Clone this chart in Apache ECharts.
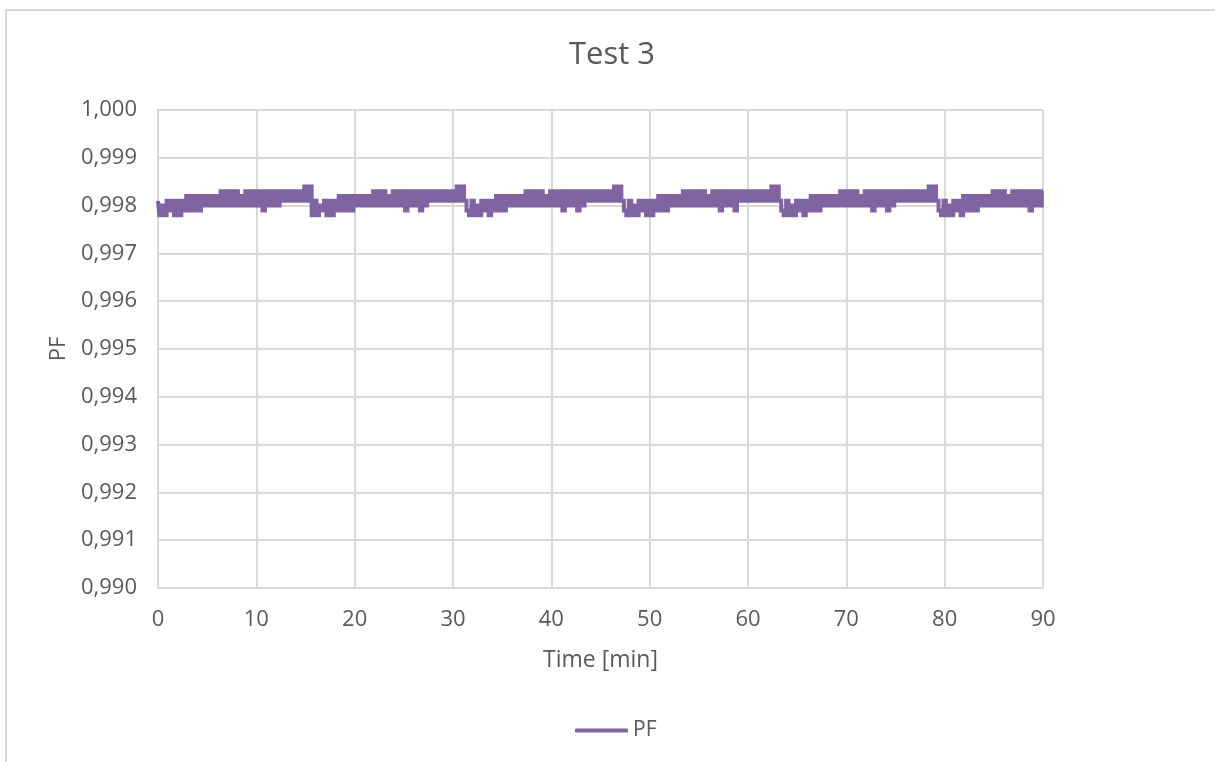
<!DOCTYPE html>
<html>
<head>
<meta charset="utf-8">
<script src="https://cdn.jsdelivr.net/npm/echarts@6/dist/echarts.min.js"></script>
<style>
  html, body { margin: 0; padding: 0; background: #ffffff; }
  #frame { position: absolute; left: 5px; top: 9px; width: 1400px; height: 900px;
           border-top: 2px solid #d9d9d9; border-left: 2px solid #d9d9d9; }
  #chart { position: absolute; left: 0; top: 0; width: 1215px; height: 762px; }
</style>
</head>
<body>
<div id="frame"></div>
<div id="chart"></div>
<script>
// ---- chart data ----
const chartTitle = 'Test 3';
const seriesName = 'PF';
const xAxisName = 'Time [min]';
const yAxisName = 'PF';
const xTicks = [0, 10, 20, 30, 40, 50, 60, 70, 80, 90];
const yTicks = [0.990, 0.991, 0.992, 0.993, 0.994, 0.995, 0.996, 0.997, 0.998, 0.999, 1.000];
const sampleMinutes = 0.25; // one PF reading every 15 s
// PF readings, one line per minute (4 readings per minute)
const pfValues = [
  0.9981, 0.9978, 0.9980, 0.9978,   // 0
  0.9981, 0.9979, 0.9981, 0.9978,   // 1
  0.9981, 0.9978, 0.9981, 0.9979,   // 2
  0.9982, 0.9979, 0.9982, 0.9979,   // 3
  0.9982, 0.9979, 0.9982, 0.9980,   // 4
  0.9982, 0.9980, 0.9982, 0.9980,   // 5
  0.9982, 0.9980, 0.9983, 0.9980,   // 6
  0.9983, 0.9980, 0.9983, 0.9980,   // 7
  0.9983, 0.9980, 0.9982, 0.9980,   // 8
  0.9983, 0.9980, 0.9983, 0.9980,   // 9
  0.9983, 0.9980, 0.9983, 0.9979,   // 10
  0.9983, 0.9980, 0.9983, 0.9980,   // 11
  0.9983, 0.9980, 0.9983, 0.9981,   // 12
  0.9983, 0.9981, 0.9983, 0.9981,   // 13
  0.9983, 0.9981, 0.9983, 0.9981,   // 14
  0.9984, 0.9981, 0.9984, 0.9978,   // 15
  0.9981, 0.9978, 0.9980, 0.9979,   // 16
  0.9981, 0.9978, 0.9981, 0.9978,   // 17
  0.9981, 0.9979, 0.9982, 0.9979,   // 18
  0.9982, 0.9979, 0.9982, 0.9979,   // 19
  0.9982, 0.9980, 0.9982, 0.9980,   // 20
  0.9982, 0.9980, 0.9982, 0.9980,   // 21
  0.9983, 0.9980, 0.9983, 0.9980,   // 22
  0.9983, 0.9980, 0.9982, 0.9980,   // 23
  0.9983, 0.9980, 0.9983, 0.9980,   // 24
  0.9983, 0.9979, 0.9983, 0.9980,   // 25
  0.9983, 0.9980, 0.9983, 0.9979,   // 26
  0.9983, 0.9980, 0.9983, 0.9981,   // 27
  0.9983, 0.9981, 0.9983, 0.9981,   // 28
  0.9983, 0.9981, 0.9983, 0.9981,   // 29
  0.9983, 0.9981, 0.9984, 0.9981,   // 30
  0.9984, 0.9981, 0.9979, 0.9978,   // 31
  0.9981, 0.9978, 0.9980, 0.9978,   // 32
  0.9981, 0.9979, 0.9981, 0.9978,   // 33
  0.9981, 0.9979, 0.9982, 0.9979,   // 34
  0.9982, 0.9979, 0.9982, 0.9980,   // 35
  0.9982, 0.9980, 0.9982, 0.9980,   // 36
  0.9982, 0.9980, 0.9983, 0.9980,   // 37
  0.9983, 0.9980, 0.9983, 0.9980,   // 38
  0.9983, 0.9980, 0.9982, 0.9980,   // 39
  0.9983, 0.9980, 0.9983, 0.9980,   // 40
  0.9983, 0.9979, 0.9983, 0.9980,   // 41
  0.9983, 0.9980, 0.9983, 0.9979,   // 42
  0.9983, 0.9980, 0.9983, 0.9981,   // 43
  0.9983, 0.9981, 0.9983, 0.9981,   // 44
  0.9983, 0.9981, 0.9983, 0.9981,   // 45
  0.9983, 0.9981, 0.9984, 0.9981,   // 46
  0.9984, 0.9981, 0.9979, 0.9978,   // 47
  0.9981, 0.9978, 0.9980, 0.9978,   // 48
  0.9981, 0.9979, 0.9981, 0.9978,   // 49
  0.9981, 0.9978, 0.9981, 0.9979,   // 50
  0.9982, 0.9979, 0.9982, 0.9979,   // 51
  0.9982, 0.9980, 0.9982, 0.9980,   // 52
  0.9982, 0.9980, 0.9983, 0.9980,   // 53
  0.9983, 0.9980, 0.9983, 0.9980,   // 54
  0.9983, 0.9980, 0.9983, 0.9980,   // 55
  0.9982, 0.9980, 0.9983, 0.9980,   // 56
  0.9983, 0.9979, 0.9983, 0.9980,   // 57
  0.9983, 0.9980, 0.9983, 0.9979,   // 58
  0.9983, 0.9981, 0.9983, 0.9981,   // 59
  0.9983, 0.9981, 0.9983, 0.9981,   // 60
  0.9983, 0.9981, 0.9983, 0.9981,   // 61
  0.9983, 0.9981, 0.9984, 0.9981,   // 62
  0.9984, 0.9981, 0.9979, 0.9978,   // 63
  0.9981, 0.9978, 0.9980, 0.9978,   // 64
  0.9981, 0.9979, 0.9981, 0.9978,   // 65
  0.9981, 0.9979, 0.9982, 0.9979,   // 66
  0.9982, 0.9979, 0.9982, 0.9980,   // 67
  0.9982, 0.9980, 0.9982, 0.9980,   // 68
  0.9982, 0.9980, 0.9983, 0.9980,   // 69
  0.9983, 0.9980, 0.9983, 0.9980,   // 70
  0.9983, 0.9980, 0.9982, 0.9980,   // 71
  0.9983, 0.9980, 0.9983, 0.9979,   // 72
  0.9983, 0.9980, 0.9983, 0.9980,   // 73
  0.9983, 0.9979, 0.9983, 0.9980,   // 74
  0.9983, 0.9981, 0.9983, 0.9981,   // 75
  0.9983, 0.9981, 0.9983, 0.9981,   // 76
  0.9983, 0.9981, 0.9983, 0.9981,   // 77
  0.9983, 0.9981, 0.9984, 0.9981,   // 78
  0.9984, 0.9981, 0.9979, 0.9978,   // 79
  0.9981, 0.9978, 0.9980, 0.9978,   // 80
  0.9981, 0.9979, 0.9981, 0.9978,   // 81
  0.9982, 0.9979, 0.9982, 0.9979,   // 82
  0.9982, 0.9979, 0.9982, 0.9980,   // 83
  0.9982, 0.9980, 0.9982, 0.9980,   // 84
  0.9983, 0.9980, 0.9983, 0.9980,   // 85
  0.9983, 0.9980, 0.9982, 0.9980,   // 86
  0.9983, 0.9980, 0.9983, 0.9980,   // 87
  0.9983, 0.9980, 0.9983, 0.9979,   // 88
  0.9983, 0.9980, 0.9983, 0.9980,   // 89
  0.9983                            // 90
];

// ---- build chart ----
const lineColor = '#8064A2';
const textColor = '#595959';
const gridColor = '#d9d9d9';
const fontFamily = '"Open Sans", "Noto Sans", sans-serif';

const seriesData = pfValues.map((v, i) => [i * sampleMinutes, v]);

const chart = echarts.init(document.getElementById('chart'), null, { renderer: 'canvas' });
chart.setOption({
  animation: false,
  backgroundColor: 'transparent',
  textStyle: { fontFamily: fontFamily },
  title: {
    text: chartTitle,
    left: 564,
    top: 35,
    textStyle: { color: textColor, fontSize: 31, fontWeight: 'normal', fontFamily: fontFamily }
  },
  legend: {
    bottom: 16,
    left: 570,
    icon: 'roundRect',
    itemWidth: 53,
    itemHeight: 4,
    itemGap: 8,
    data: [seriesName],
    textStyle: { color: textColor, fontSize: 21, fontFamily: fontFamily }
  },
  grid: { left: 158, right: 172, top: 110, bottom: 174, containLabel: false },
  xAxis: {
    type: 'value',
    min: xTicks[0],
    max: xTicks[xTicks.length - 1],
    interval: 10,
    name: xAxisName,
    nameLocation: 'middle',
    nameGap: 61,
    nameTextStyle: { color: textColor, fontSize: 23, fontFamily: fontFamily },
    axisLine: { show: true, lineStyle: { color: gridColor, width: 2 } },
    axisTick: { show: false },
    axisLabel: { color: textColor, fontSize: 22, margin: 21, fontFamily: fontFamily },
    splitLine: { show: true, lineStyle: { color: gridColor, width: 2 } }
  },
  yAxis: {
    type: 'value',
    min: yTicks[0],
    max: yTicks[yTicks.length - 1],
    interval: 0.001,
    name: yAxisName,
    nameLocation: 'middle',
    nameGap: 87,
    nameRotate: 90,
    nameTextStyle: { color: textColor, fontSize: 22, fontFamily: fontFamily },
    axisLine: { show: true, lineStyle: { color: gridColor, width: 2 } },
    axisTick: { show: false },
    axisLabel: {
      color: textColor, fontSize: 22, margin: 21, fontFamily: fontFamily,
      formatter: v => v.toFixed(3).replace('.', ',')
    },
    splitLine: { show: true, lineStyle: { color: gridColor, width: 2 } }
  },
  series: [{
    name: seriesName,
    type: 'line',
    data: seriesData,
    step: 'middle',
    symbol: 'none',
    showSymbol: false,
    color: lineColor,
    lineStyle: { color: lineColor, width: 4, join: 'miter', cap: 'butt' },
    z: 3
  }]
});
</script>
</body>
</html>
